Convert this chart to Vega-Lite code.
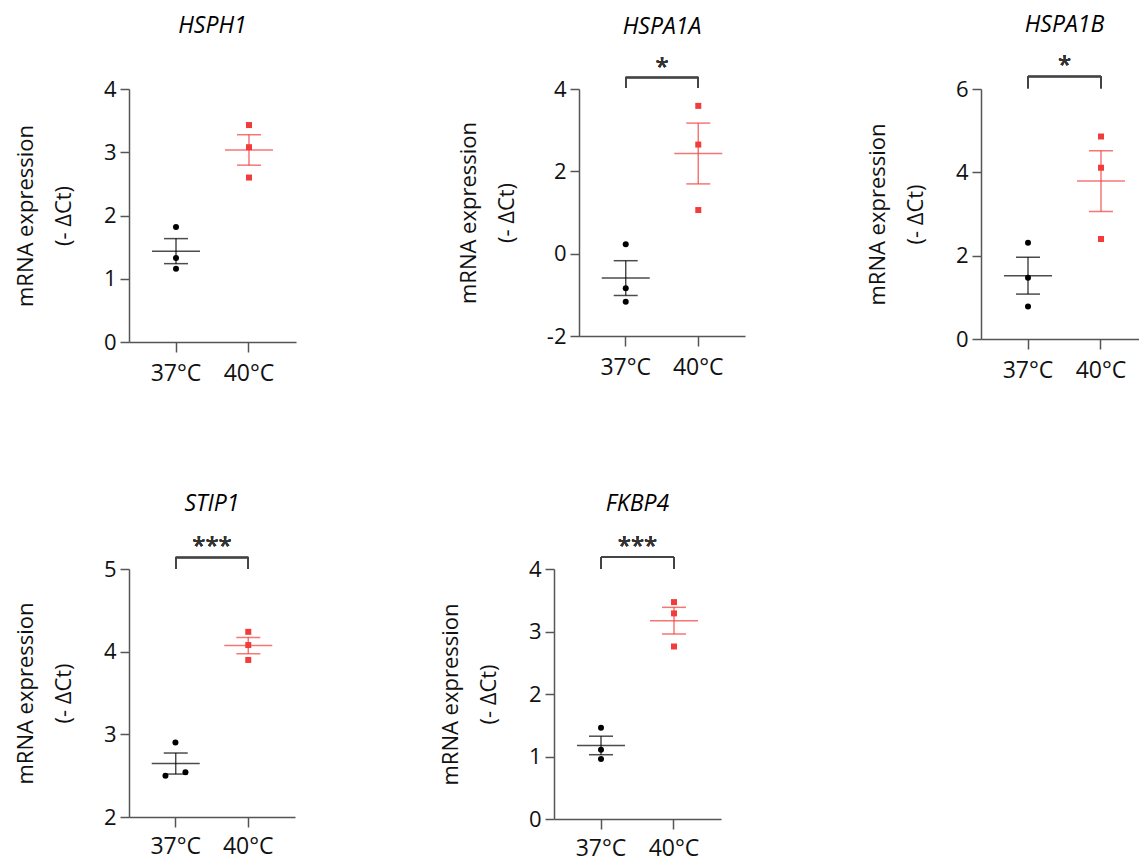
{
  "$schema": "https://vega.github.io/schema/vega-lite/v6.json",
  "background": "white",
  "padding": {"left": 14, "top": 14, "right": 0, "bottom": 0},
  "datasets": {
    "expr": [
      {"gene": "HSPH1", "group": "37°C", "rep": 1, "value": 1.82},
      {"gene": "HSPH1", "group": "37°C", "rep": 2, "value": 1.33},
      {"gene": "HSPH1", "group": "37°C", "rep": 3, "value": 1.16},
      {"gene": "HSPH1", "group": "40°C", "rep": 1, "value": 3.43},
      {"gene": "HSPH1", "group": "40°C", "rep": 2, "value": 3.08},
      {"gene": "HSPH1", "group": "40°C", "rep": 3, "value": 2.60},
      {"gene": "HSPA1A", "group": "37°C", "rep": 1, "value": 0.23},
      {"gene": "HSPA1A", "group": "37°C", "rep": 2, "value": -0.84},
      {"gene": "HSPA1A", "group": "37°C", "rep": 3, "value": -1.17},
      {"gene": "HSPA1A", "group": "40°C", "rep": 1, "value": 3.59},
      {"gene": "HSPA1A", "group": "40°C", "rep": 2, "value": 2.65},
      {"gene": "HSPA1A", "group": "40°C", "rep": 3, "value": 1.06},
      {"gene": "HSPA1B", "group": "37°C", "rep": 1, "value": 2.31},
      {"gene": "HSPA1B", "group": "37°C", "rep": 2, "value": 1.47},
      {"gene": "HSPA1B", "group": "37°C", "rep": 3, "value": 0.78},
      {"gene": "HSPA1B", "group": "40°C", "rep": 1, "value": 4.86},
      {"gene": "HSPA1B", "group": "40°C", "rep": 2, "value": 4.11},
      {"gene": "HSPA1B", "group": "40°C", "rep": 3, "value": 2.40},
      {"gene": "STIP1", "group": "37°C", "rep": 1, "value": 2.50},
      {"gene": "STIP1", "group": "37°C", "rep": 2, "value": 2.90},
      {"gene": "STIP1", "group": "37°C", "rep": 3, "value": 2.54},
      {"gene": "STIP1", "group": "40°C", "rep": 1, "value": 4.24},
      {"gene": "STIP1", "group": "40°C", "rep": 2, "value": 4.08},
      {"gene": "STIP1", "group": "40°C", "rep": 3, "value": 3.90},
      {"gene": "FKBP4", "group": "37°C", "rep": 1, "value": 1.46},
      {"gene": "FKBP4", "group": "37°C", "rep": 2, "value": 1.11},
      {"gene": "FKBP4", "group": "37°C", "rep": 3, "value": 0.96},
      {"gene": "FKBP4", "group": "40°C", "rep": 1, "value": 3.47},
      {"gene": "FKBP4", "group": "40°C", "rep": 2, "value": 3.29},
      {"gene": "FKBP4", "group": "40°C", "rep": 3, "value": 2.76}
    ]
  },
  "vconcat": [
    {
      "hconcat": [
        {
          "width": 167, "height": 253,
          "data": {"name": "expr"},
          "transform": [{"filter": "datum.gene === 'HSPH1'"}],
          "title": {"text": "HSPH1", "fontStyle": "italic", "font": "Open Sans", "fontSize": 23, "fontWeight": "normal", "anchor": "middle", "frame": "group", "offset": 40},
          "encoding": {
            "x": {"field": "group", "type": "nominal", "title": null, "scale": {"type": "band", "domain": ["37°C", "40°C"], "paddingInner": 0, "paddingOuter": 0.144}, "axis": {"labelAngle": 0, "labelPadding": 10, "tickSize": 10}},
            "color": {"field": "group", "type": "nominal", "legend": null, "scale": {"domain": ["37°C", "40°C"], "range": ["#000000", "#f23c3c"]}}
          },
          "layer": [
            {"mark": {"type": "errorbar", "extent": "stderr", "thickness": 1.5, "ticks": {"size": 24, "opacity": 0.7}, "rule": {"opacity": 0.7}},
             "encoding": {"y": {"field": "value", "type": "quantitative", "scale": {"domain": [0, 4], "nice": false}, "axis": {"values": [0, 1, 2, 3, 4], "labelExpr": "'' + datum.value", "title": ["mRNA expression", "(- ΔCt)"]}}}},
            {"mark": {"type": "tick", "size": 48, "thickness": 1.5, "opacity": 0.7},
             "encoding": {"y": {"aggregate": "mean", "field": "value", "type": "quantitative"}}},
            {"mark": {"type": "point", "filled": true, "size": 36, "opacity": 1},
             "encoding": {"y": {"field": "value", "type": "quantitative"}, "shape": {"field": "group", "type": "nominal", "legend": null, "scale": {"domain": ["37°C", "40°C"], "range": ["circle", "square"]}}}}
          ]
        },
        {
          "hconcat": [
            {
              "width": 166, "height": 247,
              "data": {"name": "expr"},
              "transform": [{"filter": "datum.gene === 'HSPA1A'"}],
              "title": {"text": "HSPA1A", "fontStyle": "italic", "font": "Open Sans", "fontSize": 23, "fontWeight": "normal", "anchor": "middle", "frame": "group", "offset": 17},
              "encoding": {
                "x": {"field": "group", "type": "nominal", "title": null, "scale": {"type": "band", "domain": ["37°C", "40°C"], "paddingInner": 0, "paddingOuter": 0.144}, "axis": {"labelAngle": 0, "labelPadding": 10, "tickSize": 10}},
                "color": {"field": "group", "type": "nominal", "legend": null, "scale": {"domain": ["37°C", "40°C"], "range": ["#000000", "#f23c3c"]}}
              },
              "layer": [
                {"mark": {"type": "errorbar", "extent": "stderr", "thickness": 1.5, "ticks": {"size": 24, "opacity": 0.7}, "rule": {"opacity": 0.7}},
                 "encoding": {"y": {"field": "value", "type": "quantitative", "scale": {"domain": [-2, 4], "nice": false}, "axis": {"values": [-2, 0, 2, 4], "labelExpr": "'' + datum.value", "title": ["mRNA expression", "(- ΔCt)"]}}}},
                {"mark": {"type": "tick", "size": 48, "thickness": 1.5, "opacity": 0.7},
                 "encoding": {"y": {"aggregate": "mean", "field": "value", "type": "quantitative"}}},
                {"mark": {"type": "point", "filled": true, "size": 36, "opacity": 1},
                 "encoding": {"y": {"field": "value", "type": "quantitative"}, "shape": {"field": "group", "type": "nominal", "legend": null, "scale": {"domain": ["37°C", "40°C"], "range": ["circle", "square"]}}}},
                {"mark": {"type": "rule", "strokeWidth": 1.5},
                 "encoding": {"x": {"datum": "37°C"}, "x2": {"datum": "40°C"}, "y": {"datum": 4.28}, "color": {"value": "#444"}}},
                {"mark": {"type": "rule", "strokeWidth": 1.5},
                 "encoding": {"x": {"datum": "37°C"}, "y": {"datum": 4.28}, "y2": {"datum": 4.03}, "color": {"value": "#444"}}},
                {"mark": {"type": "rule", "strokeWidth": 1.5},
                 "encoding": {"x": {"datum": "40°C"}, "y": {"datum": 4.28}, "y2": {"datum": 4.03}, "color": {"value": "#444"}}},
                {"mark": {"type": "text", "text": "*", "font": "Open Sans", "fontSize": 24, "baseline": "middle", "align": "center"},
                 "encoding": {"x": {"datum": "37°C", "bandPosition": 1}, "y": {"datum": 4.52}, "color": {"value": "#333"}}}
              ]
            },
            {
              "width": 167, "height": 250,
              "data": {"name": "expr"},
              "transform": [{"filter": "datum.gene === 'HSPA1B'"}],
              "title": {"text": "HSPA1B", "fontStyle": "italic", "font": "Open Sans", "fontSize": 23, "fontWeight": "normal", "anchor": "middle", "frame": "group", "offset": 17},
              "encoding": {
                "x": {"field": "group", "type": "nominal", "title": null, "scale": {"type": "band", "domain": ["37°C", "40°C"], "paddingInner": 0, "paddingOuter": 0.144}, "axis": {"labelAngle": 0, "labelPadding": 10, "tickSize": 10}},
                "color": {"field": "group", "type": "nominal", "legend": null, "scale": {"domain": ["37°C", "40°C"], "range": ["#000000", "#f23c3c"]}}
              },
              "layer": [
                {"mark": {"type": "errorbar", "extent": "stderr", "thickness": 1.5, "ticks": {"size": 24, "opacity": 0.7}, "rule": {"opacity": 0.7}},
                 "encoding": {"y": {"field": "value", "type": "quantitative", "scale": {"domain": [0, 6], "nice": false}, "axis": {"values": [0, 2, 4, 6], "labelExpr": "'' + datum.value", "title": ["mRNA expression", "(- ΔCt)"]}}}},
                {"mark": {"type": "tick", "size": 48, "thickness": 1.5, "opacity": 0.7},
                 "encoding": {"y": {"aggregate": "mean", "field": "value", "type": "quantitative"}}},
                {"mark": {"type": "point", "filled": true, "size": 36, "opacity": 1},
                 "encoding": {"y": {"field": "value", "type": "quantitative"}, "shape": {"field": "group", "type": "nominal", "legend": null, "scale": {"domain": ["37°C", "40°C"], "range": ["circle", "square"]}}}},
                {"mark": {"type": "rule", "strokeWidth": 1.5},
                 "encoding": {"x": {"datum": "37°C"}, "x2": {"datum": "40°C"}, "y": {"datum": 6.3}, "color": {"value": "#444"}}},
                {"mark": {"type": "rule", "strokeWidth": 1.5},
                 "encoding": {"x": {"datum": "37°C"}, "y": {"datum": 6.3}, "y2": {"datum": 6.02}, "color": {"value": "#444"}}},
                {"mark": {"type": "rule", "strokeWidth": 1.5},
                 "encoding": {"x": {"datum": "40°C"}, "y": {"datum": 6.3}, "y2": {"datum": 6.02}, "color": {"value": "#444"}}},
                {"mark": {"type": "text", "text": "*", "font": "Open Sans", "fontSize": 24, "baseline": "middle", "align": "center"},
                 "encoding": {"x": {"datum": "37°C", "bandPosition": 1}, "y": {"datum": 6.55}, "color": {"value": "#333"}}}
              ]
            }
          ],
          "spacing": 236, "bounds": "flush"
        }
      ],
      "spacing": 283, "bounds": "flush"
    },
    {
      "hconcat": [
        {
          "width": 166, "height": 248,
          "data": {"name": "expr"},
          "transform": [{"filter": "datum.gene === 'STIP1'"}],
          "title": {"text": "STIP1", "fontStyle": "italic", "font": "Open Sans", "fontSize": 23, "fontWeight": "normal", "anchor": "middle", "frame": "group", "offset": 19},
          "encoding": {
            "x": {"field": "group", "type": "nominal", "title": null, "scale": {"type": "band", "domain": ["37°C", "40°C"], "paddingInner": 0, "paddingOuter": 0.144}, "axis": {"labelAngle": 0, "labelPadding": 8, "tickSize": 10}},
            "color": {"field": "group", "type": "nominal", "legend": null, "scale": {"domain": ["37°C", "40°C"], "range": ["#000000", "#f23c3c"]}}
          },
          "layer": [
            {"mark": {"type": "errorbar", "extent": "stderr", "thickness": 1.5, "ticks": {"size": 24, "opacity": 0.7}, "rule": {"opacity": 0.7}},
             "encoding": {"y": {"field": "value", "type": "quantitative", "scale": {"domain": [2, 5], "nice": false}, "axis": {"values": [2, 3, 4, 5], "labelExpr": "'' + datum.value", "title": ["mRNA expression", "(- ΔCt)"]}}}},
            {"mark": {"type": "tick", "size": 48, "thickness": 1.5, "opacity": 0.7},
             "encoding": {"y": {"aggregate": "mean", "field": "value", "type": "quantitative"}}},
            {"transform": [{"filter": "datum.group === '40°C'"}],
             "mark": {"type": "point", "filled": true, "size": 36, "opacity": 1, "shape": "square"},
             "encoding": {"y": {"field": "value", "type": "quantitative"}}},
            {"transform": [{"filter": "datum.group === '37°C'"}],
             "mark": {"type": "point", "filled": true, "size": 36, "opacity": 1, "shape": "circle"},
             "encoding": {"y": {"field": "value", "type": "quantitative"}, "xOffset": {"field": "rep", "type": "quantitative", "scale": {"domain": [1, 3], "range": [26, 46]}}}},
            {"mark": {"type": "rule", "strokeWidth": 1.5},
             "encoding": {"x": {"datum": "37°C"}, "x2": {"datum": "40°C"}, "y": {"datum": 5.14}, "color": {"value": "#444"}}},
            {"mark": {"type": "rule", "strokeWidth": 1.5},
             "encoding": {"x": {"datum": "37°C"}, "y": {"datum": 5.14}, "y2": {"datum": 5.0}, "color": {"value": "#444"}}},
            {"mark": {"type": "rule", "strokeWidth": 1.5},
             "encoding": {"x": {"datum": "40°C"}, "y": {"datum": 5.14}, "y2": {"datum": 5.0}, "color": {"value": "#444"}}},
            {"mark": {"type": "text", "text": "***", "font": "Open Sans", "fontSize": 24, "baseline": "middle", "align": "center"},
             "encoding": {"x": {"datum": "37°C", "bandPosition": 1}, "y": {"datum": 5.265}, "color": {"value": "#333"}}}
          ]
        },
        {
          "width": 167, "height": 250,
          "data": {"name": "expr"},
          "transform": [{"filter": "datum.gene === 'FKBP4'"}],
          "title": {"text": "FKBP4", "fontStyle": "italic", "font": "Open Sans", "fontSize": 23, "fontWeight": "normal", "anchor": "middle", "frame": "group", "offset": 19},
          "encoding": {
            "x": {"field": "group", "type": "nominal", "title": null, "scale": {"type": "band", "domain": ["37°C", "40°C"], "paddingInner": 0, "paddingOuter": 0.144}, "axis": {"labelAngle": 0, "labelPadding": 8, "tickSize": 10}},
            "color": {"field": "group", "type": "nominal", "legend": null, "scale": {"domain": ["37°C", "40°C"], "range": ["#000000", "#f23c3c"]}}
          },
          "layer": [
            {"mark": {"type": "errorbar", "extent": "stderr", "thickness": 1.5, "ticks": {"size": 24, "opacity": 0.7}, "rule": {"opacity": 0.7}},
             "encoding": {"y": {"field": "value", "type": "quantitative", "scale": {"domain": [0, 4], "nice": false}, "axis": {"values": [0, 1, 2, 3, 4], "labelExpr": "'' + datum.value", "title": ["mRNA expression", "(- ΔCt)"]}}}},
            {"mark": {"type": "tick", "size": 48, "thickness": 1.5, "opacity": 0.7},
             "encoding": {"y": {"aggregate": "mean", "field": "value", "type": "quantitative"}}},
            {"mark": {"type": "point", "filled": true, "size": 36, "opacity": 1},
             "encoding": {"y": {"field": "value", "type": "quantitative"}, "shape": {"field": "group", "type": "nominal", "legend": null, "scale": {"domain": ["37°C", "40°C"], "range": ["circle", "square"]}}}},
            {"mark": {"type": "rule", "strokeWidth": 1.5},
             "encoding": {"x": {"datum": "37°C"}, "x2": {"datum": "40°C"}, "y": {"datum": 4.19}, "color": {"value": "#444"}}},
            {"mark": {"type": "rule", "strokeWidth": 1.5},
             "encoding": {"x": {"datum": "37°C"}, "y": {"datum": 4.19}, "y2": {"datum": 4.0}, "color": {"value": "#444"}}},
            {"mark": {"type": "rule", "strokeWidth": 1.5},
             "encoding": {"x": {"datum": "40°C"}, "y": {"datum": 4.19}, "y2": {"datum": 4.0}, "color": {"value": "#444"}}},
            {"mark": {"type": "text", "text": "***", "font": "Open Sans", "fontSize": 24, "baseline": "middle", "align": "center"},
             "encoding": {"x": {"datum": "37°C", "bandPosition": 1}, "y": {"datum": 4.345}, "color": {"value": "#333"}}}
          ]
        }
      ],
      "spacing": 259, "bounds": "flush"
    }
  ],
  "spacing": 108,
  "config": {
    "view": {"stroke": null},
    "font": "Open Sans",
    "axis": {
      "grid": false,
      "domainColor": "#555",
      "domainWidth": 1.5,
      "tickColor": "#555",
      "tickWidth": 1.5,
      "tickSize": 9,
      "labelFont": "Open Sans",
      "labelFontSize": 22,
      "labelColor": "#111",
      "titleFont": "Open Sans",
      "titleFontSize": 22,
      "titleFontWeight": "normal",
      "titleColor": "#111",
      "titleLineHeight": 38,
      "titlePadding": 28,
      "labelPadding": 4
    },
    "axisX": {"labelFontSize": 23}
  }
}
